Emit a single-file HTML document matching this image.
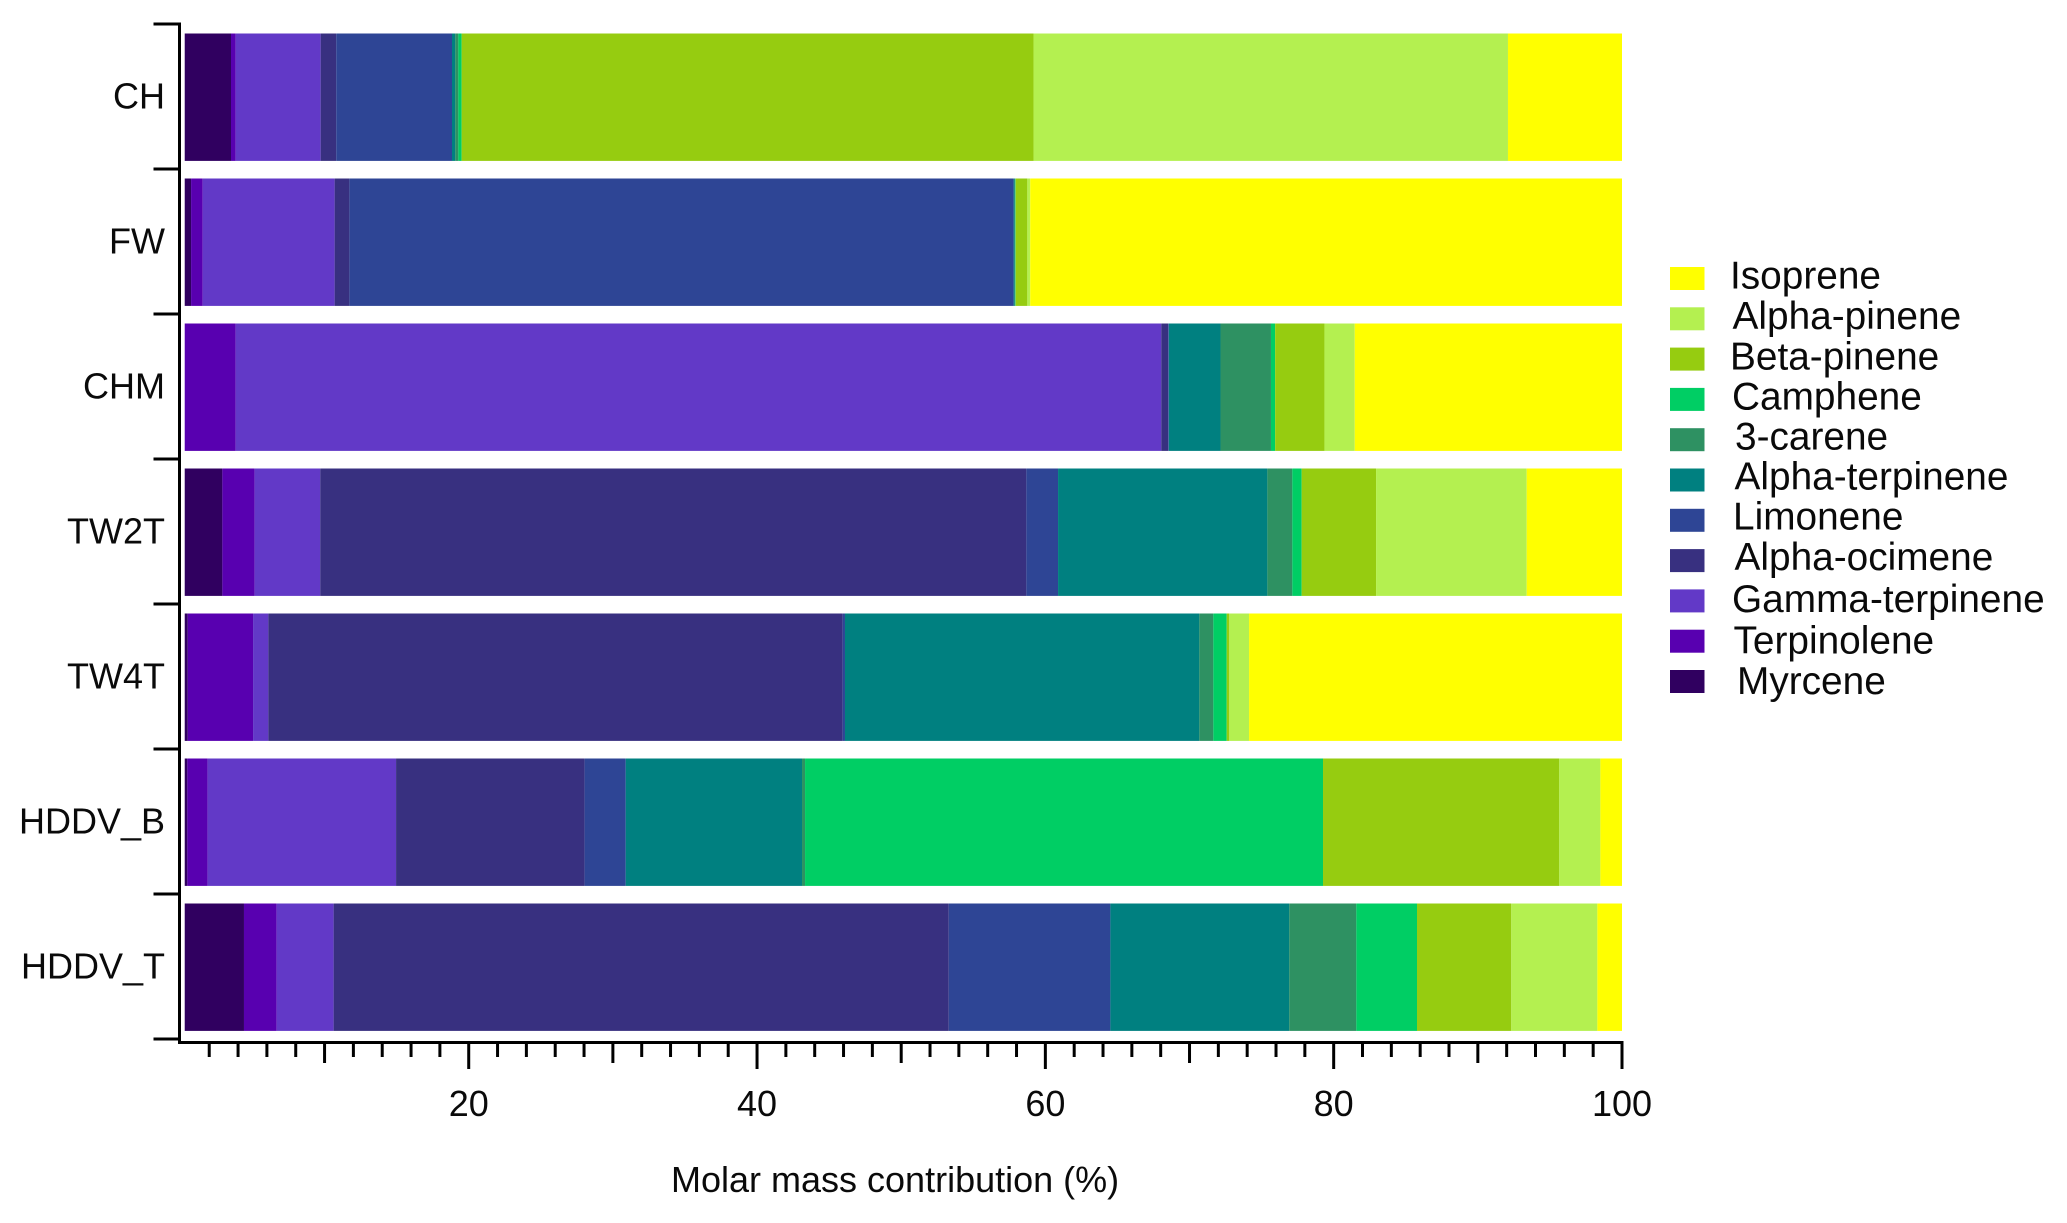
<!DOCTYPE html>
<html lang="en">
<head>
<meta charset="utf-8">
<title>Molar mass contribution by source</title>
<style>
  html, body { margin: 0; padding: 0; background: #fff; }
  body { width: 2067px; height: 1223px; overflow: hidden; }
  svg { display: block; }
  text { font-family: "Liberation Sans", Arial, sans-serif; fill: #0a0a0a; }
  .tick-label { font-size: 36px; }
  .legend-label { font-size: 38.8px; }
</style>
</head>
<body>
<svg id="chart" xmlns="http://www.w3.org/2000/svg" width="2067" height="1223" viewBox="0 0 2067 1223">
  <g id="bars"></g>
  <g id="axes"></g>
  <text class="tick-label" x="671" y="1192">Molar mass contribution (%)</text>
  <g id="legend">
    <g><rect x="1670" y="267" width="34.5" height="23" fill="#ffff00"/><text class="legend-label" x="1730" y="288.5">Isoprene</text></g>
    <g><rect x="1670" y="307.3" width="34.5" height="23" fill="#b4f050"/><text class="legend-label" x="1732.5" y="329">Alpha-pinene</text></g>
    <g><rect x="1670" y="347.6" width="34.5" height="23" fill="#96cc10"/><text class="legend-label" x="1730" y="369.3">Beta-pinene</text></g>
    <g><rect x="1670" y="387.9" width="34.5" height="23" fill="#00ce64"/><text class="legend-label" x="1732" y="409.3">Camphene</text></g>
    <g><rect x="1670" y="428.2" width="34.5" height="23" fill="#2e9162"/><text class="legend-label" x="1735" y="449.3">3-carene</text></g>
    <g><rect x="1670" y="468.5" width="34.5" height="23" fill="#008080"/><text class="legend-label" x="1734.5" y="489.3">Alpha-terpinene</text></g>
    <g><rect x="1670" y="508.8" width="34.5" height="23" fill="#2e4595"/><text class="legend-label" x="1733" y="529.7">Limonene</text></g>
    <g><rect x="1670" y="549.1" width="34.5" height="23" fill="#383080"/><text class="legend-label" x="1734.5" y="570">Alpha-ocimene</text></g>
    <g><rect x="1670" y="589.4" width="34.5" height="23" fill="#6239c7"/><text class="legend-label" x="1732" y="612">Gamma-terpinene</text></g>
    <g><rect x="1670" y="629.7" width="34.5" height="23" fill="#5800b0"/><text class="legend-label" x="1733.5" y="653.5">Terpinolene</text></g>
    <g><rect x="1670" y="670" width="34.5" height="23" fill="#300060"/><text class="legend-label" x="1737" y="694">Myrcene</text></g>
  </g>
</svg>
<script>
const categories = ["CH", "FW", "CHM", "TW2T", "TW4T", "HDDV_B", "HDDV_T"];
const myrcene        = [3.21, 0.44, 0.00, 2.61, 0.21, 0.18, 4.11];
const terpinolene    = [0.33, 0.81, 3.54, 2.24, 4.53, 1.41, 2.27];
const gammaTerpinene = [5.89, 9.15, 64.20, 4.55, 1.06, 13.07, 3.95];
const alphaOcimene   = [1.08, 1.02, 0.48, 48.98, 39.84, 13.08, 42.67];
const limonene       = [8.03, 46.08, 0.05, 2.20, 0.16, 2.85, 11.21];
const alphaTerpinene = [0.23, 0.08, 3.58, 14.52, 24.58, 12.23, 12.41];
const carene3        = [0.21, 0.03, 3.50, 1.73, 0.97, 0.21, 4.65];
const camphene       = [0.23, 0.03, 0.29, 0.65, 0.93, 35.93, 4.21];
const betaPinene     = [39.67, 0.81, 3.42, 5.16, 0.18, 16.39, 6.54];
const alphaPinene    = [32.91, 0.20, 2.10, 10.45, 1.37, 2.85, 5.97];
const isoprene       = [7.91, 41.05, 18.54, 6.61, 25.87, 1.50, 1.71];
const xTickLabels = [20, 40, 60, 80, 100];
const stackStart = 0.3;

const seriesStack = [
  ["myrcene", myrcene, "#300060"],
  ["terpinolene", terpinolene, "#5800b0"],
  ["gamma-terpinene", gammaTerpinene, "#6239c7"],
  ["alpha-ocimene", alphaOcimene, "#383080"],
  ["limonene", limonene, "#2e4595"],
  ["alpha-terpinene", alphaTerpinene, "#008080"],
  ["3-carene", carene3, "#2e9162"],
  ["camphene", camphene, "#00ce64"],
  ["beta-pinene", betaPinene, "#96cc10"],
  ["alpha-pinene", alphaPinene, "#b4f050"],
  ["isoprene", isoprene, "#ffff00"]
];

const NS = "http://www.w3.org/2000/svg";
const xScale = v => 180.4 + 14.416 * v;
const bandEdge = i => 24 + 145 * i;
const axisY = 1042.5;
const axisX = 179.5;

const barsG = document.getElementById("bars");
const axesG = document.getElementById("axes");

categories.forEach((cat, i) => {
  let acc = stackStart;
  seriesStack.forEach(s => {
    const v = s[1][i];
    if (v <= 0) return;
    const r = document.createElementNS(NS, "rect");
    r.setAttribute("x", xScale(acc));
    r.setAttribute("y", bandEdge(i) + 9.5);
    r.setAttribute("width", xScale(acc + v) - xScale(acc));
    r.setAttribute("height", 127.4);
    r.setAttribute("fill", s[2]);
    
    
    barsG.appendChild(r);
    acc += v;
  });
});

function line(x1, y1, x2, y2, name) {
  const l = document.createElementNS(NS, "line");
  l.setAttribute("x1", x1);
  l.setAttribute("y1", y1);
  l.setAttribute("x2", x2);
  l.setAttribute("y2", y2);
  l.setAttribute("stroke", "#000");
  l.setAttribute("stroke-width", 3);
  
  
  axesG.appendChild(l);
}

line(axisX, 22.5, axisX, axisY + 1.5, "y-axis-line");
line(axisX - 1.5, axisY, xScale(100) + 1.5, axisY, "x-axis-line");

for (let i = 0; i <= categories.length; i++) {
  line(153.5, bandEdge(i), axisX, bandEdge(i), "y-tick");
}

categories.forEach((cat, i) => {
  const t = document.createElementNS(NS, "text");
  t.setAttribute("class", "tick-label");
  t.setAttribute("x", 165);
  t.setAttribute("y", bandEdge(i) + 72.5 + 12);
  t.setAttribute("text-anchor", "end");
  
  
  t.textContent = cat;
  axesG.appendChild(t);
});

for (let v = 2; v <= 100; v += 2) {
  const end = v % 20 === 0 ? 1069 : (v % 10 === 0 ? 1063 : 1057);
  line(xScale(v), axisY, xScale(v), end, "x-tick");
}

xTickLabels.forEach(v => {
  const t = document.createElementNS(NS, "text");
  t.setAttribute("class", "tick-label");
  t.setAttribute("x", xScale(v));
  t.setAttribute("y", 1116);
  t.setAttribute("text-anchor", "middle");
  
  
  t.textContent = v;
  axesG.appendChild(t);
});
</script>
</body>
</html>
